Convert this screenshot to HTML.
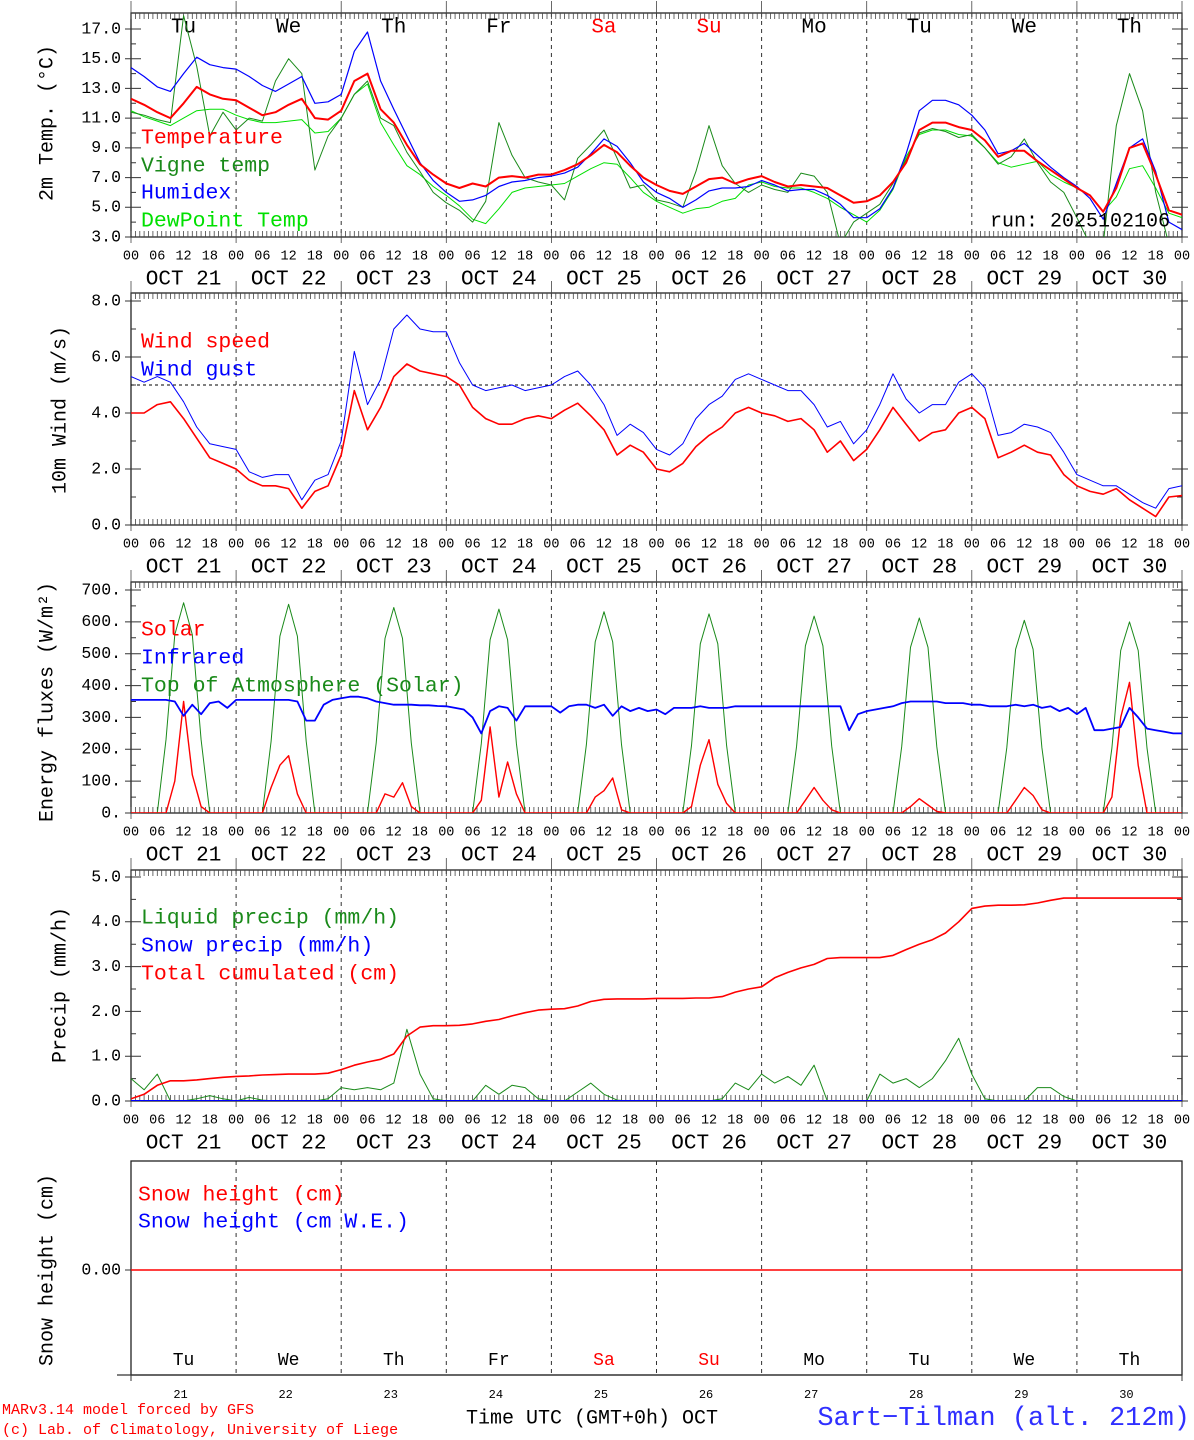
<!DOCTYPE html>
<html><head><meta charset="utf-8"><style>
html,body{margin:0;padding:0;background:#fff;}
svg{display:block;font-family:"Liberation Mono",monospace;}
</style></head><body>
<svg id="chart" width="1194" height="1440" viewBox="0 0 1194 1440" xmlns="http://www.w3.org/2000/svg"></svg>
<script>
// ---- data (3-hourly unless noted) ----
const dayNames = ["Tu","We","Th","Fr","Sa","Su","Mo","Tu","We","Th"];
const dayNums = ["21","22","23","24","25","26","27","28","29","30"];
const hourLabels = ["00","06","12","18"];
const tempTicks = [3,5,7,9,11,13,15,17];
const windTicks = [0,2,4,6,8];
const energyTicks = [0,100,200,300,400,500,600,700];
const precipTicks = [0,1,2,3,4,5];

const temperature = [12.3,11.9,11.4,11.0,12.0,13.1,12.6,12.3, 12.2,11.7,11.2,11.4,11.9,12.3,11.0,10.9,
 11.5,13.5,14.0,11.6,10.7,9.2,7.9,7.2, 6.6,6.3,6.6,6.4,7.0,7.1,7.0,7.2, 7.2,7.5,7.9,8.5,9.2,8.7,7.8,7.0,
 6.5,6.1,5.9,6.4,6.9,7.0,6.6,6.9, 7.1,6.7,6.4,6.5,6.4,6.3,5.8,5.3, 5.4,5.8,6.7,8.0,10.2,10.7,10.7,10.4,
 10.2,9.5,8.4,8.8,8.8,8.1,7.5,6.9, 6.3,5.8,4.7,6.3,9.0,9.3,7.2,4.8,4.5];
const humidex = [14.4,13.8,13.1,12.8,14.0,15.1,14.6,14.4, 14.3,13.8,13.2,12.8,13.3,13.8,12.0,12.1,
 12.6,15.5,16.8,13.5,11.6,9.8,8.0,6.8, 6.0,5.4,5.5,5.8,6.4,6.7,6.8,7.0, 7.1,7.3,7.7,8.6,9.6,9.1,8.0,6.7,
 6.0,5.6,5.0,5.5,6.1,6.3,6.3,6.4, 6.8,6.5,6.1,6.2,6.2,5.8,5.2,4.3, 4.3,4.9,6.3,8.6,11.5,12.2,12.2,11.9,
 11.2,10.2,8.6,8.8,9.3,8.5,7.7,7.0, 6.4,5.6,4.2,6.6,9.0,9.6,7.4,4.0,3.5];
const dewpoint = [11.5,11.1,10.8,10.5,11.0,11.5,11.6,11.6, 11.2,10.9,10.7,10.7,10.8,10.9,10.0,10.1,
 11.0,12.6,13.3,10.7,9.2,7.8,7.2,6.4, 5.8,5.1,4.2,3.9,4.9,6.0,6.3,6.4, 6.5,6.6,7.1,7.6,8.0,7.9,7.0,6.0,
 5.4,5.0,4.6,4.9,5.0,5.4,5.6,6.5, 6.7,6.4,6.3,6.3,6.0,5.6,5.0,4.5, 4.0,4.8,6.2,8.4,9.9,10.2,10.2,9.9,
 9.8,9.0,8.0,7.7,7.9,8.1,7.2,6.7, 6.3,5.8,4.7,5.7,7.6,7.8,6.3,4.6,4.3];
const vigne = [11.4,11.2,10.9,10.7,17.9,14.5,9.8,11.4, 10.2,11.0,10.8,13.5,15.0,14.0,7.5,9.8,
 11.0,12.6,13.5,11.0,10.5,8.7,7.4,6.0, 5.3,4.8,4.0,5.4,10.7,8.5,7.0,6.7, 6.5,5.5,8.3,9.2,10.2,8.3,6.3,6.5,
 5.5,5.3,5.0,7.4,10.5,7.8,6.6,6.0, 6.5,6.2,6.0,7.3,7.1,6.0,2.5,4.0, 4.6,5.2,6.6,8.2,10.0,10.3,10.1,9.7,
 9.9,9.0,7.9,8.4,9.6,8.0,6.7,6.0, 4.3,2.5,2.5,10.5,14.0,11.5,6.0,2.5,2.5];

const windSpeed = [4.0,4.0,4.3,4.4,3.8,3.1,2.4,2.2, 2.0,1.6,1.4,1.4,1.3,0.6,1.2,1.4,
 2.5,4.8,3.4,4.2,5.3,5.75,5.5,5.4, 5.3,5.0,4.2,3.8,3.6,3.6,3.8,3.9, 3.8,4.1,4.35,3.9,3.4,2.5,2.85,2.6,
 2.0,1.9,2.2,2.8,3.2,3.5,4.0,4.2, 4.0,3.9,3.7,3.8,3.4,2.6,3.0,2.3, 2.7,3.4,4.2,3.6,3.0,3.3,3.4,4.0,
 4.2,3.8,2.4,2.6,2.85,2.6,2.5,1.8, 1.4,1.2,1.1,1.3,0.9,0.6,0.3,1.0,1.05];
const windGust = [5.3,5.1,5.3,5.1,4.4,3.5,2.9,2.8, 2.7,1.9,1.7,1.8,1.8,0.9,1.6,1.8,
 3.0,6.2,4.3,5.2,7.0,7.5,7.0,6.9, 6.9,5.8,5.0,4.8,4.9,5.0,4.8,4.9, 5.0,5.3,5.5,5.0,4.3,3.2,3.6,3.3,
 2.7,2.5,2.9,3.8,4.3,4.6,5.2,5.4, 5.2,5.0,4.8,4.8,4.3,3.5,3.7,2.9, 3.4,4.3,5.4,4.5,4.0,4.3,4.3,5.1,
 5.4,4.9,3.2,3.3,3.6,3.5,3.3,2.6, 1.8,1.6,1.4,1.4,1.1,0.8,0.6,1.3,1.4];

// energy fluxes: 2-hourly
const solar = [
 0,0,0,0,0,100,350,120,20,0,0,0,
 0,0,0,0,80,150,180,60,0,0,0,0,
 0,0,0,0,0,60,50,95,20,0,0,0,
 0,0,0,0,40,270,50,160,60,0,0,0,
 0,0,0,0,0,50,70,110,10,0,0,0,
 0,0,0,0,20,150,230,90,30,0,0,0,
 0,0,0,0,0,40,80,40,10,0,0,0,
 0,0,0,0,0,20,45,25,5,0,0,0,
 0,0,0,0,0,40,80,55,10,0,0,0,
 0,0,0,0,50,300,410,150,0,0,0,0, 0];
const toa = [
 0,0,0,0,230,560,660,560,230,0,0,0,
 0,0,0,0,225,555,655,555,225,0,0,0,
 0,0,0,0,220,548,645,548,220,0,0,0,
 0,0,0,0,218,544,640,544,218,0,0,0,
 0,0,0,0,215,537,632,537,215,0,0,0,
 0,0,0,0,212,531,625,531,212,0,0,0,
 0,0,0,0,210,525,618,525,210,0,0,0,
 0,0,0,0,208,520,612,520,208,0,0,0,
 0,0,0,0,205,514,605,514,205,0,0,0,
 0,0,0,0,204,510,600,510,204,0,0,0, 0];
const infrared = [
 355,355,355,355,355,350,305,340,310,345,350,330,
 355,355,355,355,355,355,355,350,290,290,340,355,
 360,365,365,360,350,345,340,340,340,338,338,336,
 335,330,325,300,250,320,335,330,290,335,335,335,
 335,315,335,340,340,330,340,305,335,320,330,320,
 325,310,330,330,330,335,330,330,330,335,335,335,
 335,335,335,335,335,335,335,335,335,335,260,310,
 320,325,330,335,345,350,350,350,350,345,345,345,
 340,340,335,335,335,340,335,340,330,335,320,330,
 310,330,260,260,265,270,330,300,265,260,255,250, 250];

const liquidPrecip = [0.5,0.25,0.6,0.0,0,0.05,0.12,0.05, 0,0.08,0.02,0,0,0,0,0.05,
 0.3,0.25,0.3,0.25,0.4,1.6,0.6,0.05, 0,0,0,0.35,0.15,0.35,0.3,0.05, 0,0,0.2,0.4,0.15,0.02,0,0,
 0,0,0,0,0,0.05,0.4,0.25, 0.6,0.4,0.55,0.35,0.8,0,0,0, 0,0.6,0.4,0.5,0.3,0.5,0.9,1.4,
 0.6,0.05,0,0.02,0,0.3,0.3,0.1, 0,0,0,0,0,0,0,0,0];
const totalCum = [0.05,0.15,0.35,0.45,0.45,0.47,0.5,0.53, 0.55,0.56,0.58,0.59,0.6,0.6,0.6,0.62,
 0.7,0.8,0.87,0.93,1.05,1.45,1.65,1.68, 1.68,1.69,1.72,1.78,1.82,1.9,1.97,2.03, 2.05,2.06,2.12,2.22,2.27,2.28,2.28,2.28,
 2.29,2.29,2.29,2.3,2.3,2.33,2.43,2.5, 2.55,2.75,2.87,2.97,3.05,3.18,3.2,3.2, 3.2,3.2,3.25,3.38,3.5,3.6,3.75,4.0,
 4.3,4.35,4.37,4.37,4.38,4.42,4.48,4.53, 4.53,4.53,4.53,4.53,4.53,4.53,4.53,4.53,4.53];
const snowPrecip = [0,0];
const snowHeight = [0,0];
const snowWE = [0,0];

// ---- drawing ----
const svg = document.getElementById('chart');
const NS = 'http://www.w3.org/2000/svg';
const X0 = 131, X1 = 1182;
function xh(h){ return X0 + h*(X1-X0)/240; }
function mk(tag, attrs, parent){
  const e = document.createElementNS(NS, tag);
  for (const k in attrs) e.setAttribute(k, attrs[k]);
  (parent||svg).appendChild(e);
  return e;
}
function txt(s, x, y, size, fill, anchor, parent){
  const t = mk('text', {x:x, y:y, 'font-size':size, fill:fill||'#000', 'text-anchor':anchor||'start', 'dominant-baseline':'middle'}, parent);
  t.textContent = s;
  return t;
}
function makeY(v0, p0, v1, p1){ return v => p0 + (v - v0)*(p1 - p0)/(v1 - v0); }

const panels = [
 {id:'temp', top:13, bot:237, y:makeY(3,237,17,29)},
 {id:'wind', top:293, bot:525, y:makeY(0,525,8,301)},
 {id:'energy', top:582, bot:813, y:makeY(0,813,700,590)},
 {id:'precip', top:870, bot:1101, y:makeY(0,1101,5,877)},
 {id:'snow', top:1161, bot:1375, y:makeY(0,1270,1,1180)}
];

function frame(p, idx){
  const g = mk('g', {});
  
  
  for (let d=1; d<10; d++){
    const x = xh(d*24);
    const l = mk('line', {x1:x, y1:p.top, x2:x, y2:p.bot, stroke:'#333', 'stroke-width':1, 'stroke-dasharray':'4,4'}, g);
    
    
  }
  mk('rect', {x:X0, y:p.top, width:X1-X0, height:p.bot-p.top, fill:'none', stroke:'#222', 'stroke-width':1.3}, g);
  if (idx < 4){
    let d = '';
    for (let h=0; h<=240; h++){
      const x = xh(h).toFixed(1);
      d += `M${x},${p.top}v6M${x},${p.bot}v-6`;
      if (h % 24 === 0) d += `M${x},${p.top}v-12M${x},${p.bot}v6`;
    }
    mk('path', {d:d, stroke:'#444', 'stroke-width':0.8, fill:'none'}, g);
    const ly = p.bot + 19;
    for (let dd=0; dd<=10; dd++){
      for (let k=0; k<4; k++){
        if (dd===10 && k>0) break;
        const h = dd*24 + k*6;
        const t = txt(hourLabels[k], xh(h), ly, 13.5, '#000', 'middle', g);
        
        
      }
    }
    for (let dd=0; dd<10; dd++){
      const t = txt('OCT ' + dayNums[dd], xh(dd*24+12), p.bot + 42, 21, '#000', 'middle', g);
      
      
    }
  }
  return g;
}

function yTicks(p, ticks, fmt, minorStep){
  const g = mk('g', {});
  
  
  let d = '';
  for (const v of ticks){
    const y = p.y(v).toFixed(1);
    d += `M${X0},${y}h10M${X1},${y}h-10M${X0},${y}h-6M${X1},${y}h6`;
    const t = txt(fmt(v), 121, p.y(v), 16.5, '#000', 'end', g);
    
    
  }
  if (minorStep){
    for (let v = ticks[0]; v <= ticks[ticks.length-1] + 1e-9; v += minorStep){
      const y = p.y(v).toFixed(1);
      d += `M${X0},${y}h5M${X1},${y}h-5`;
    }
  }
  mk('path', {d:d, stroke:'#333', 'stroke-width':1, fill:'none'}, g);
}

function series(p, vals, step, color, width, name){
  const cid = 'clip-' + p.id;
  if (!document.getElementById(cid)){
    const cp = mk('clipPath', {id:cid});
    mk('rect', {x:X0, y:p.top, width:X1-X0, height:p.bot-p.top}, cp);
  }
  const pts = vals.map((v,i) => xh(i*step).toFixed(1) + ',' + p.y(v).toFixed(1)).join(' ');
  const pl = mk('polyline', {points:pts, fill:'none', stroke:color, 'stroke-width':width, 'stroke-linejoin':'round', 'clip-path':'url(#' + cid + ')'});
  
  
}

function yTitle(s, x, y){
  const t = mk('text', {x:x, y:y, 'font-size':20, 'text-anchor':'middle', 'dominant-baseline':'middle', transform:`rotate(-90 ${x} ${y})`});
  t.textContent = s;
  
  
  return t;
}
function legend(s, x, y, color){
  const t = txt(s, x, y, 21.5, color, 'start');
  
  
}

panels.forEach((p,i) => frame(p,i));

// Panel 1
const P1 = panels[0];
yTicks(P1, tempTicks, v => v.toFixed(1), 1);
for (let d=0; d<10; d++){
  const t = txt(dayNames[d], xh(d*24+12), 27, 21, (d===4||d===5)?'#f00':'#000', 'middle');
  
  
}
series(P1, dewpoint, 3, '#00e000', 1, 'dewpoint-line');
series(P1, vigne, 3, '#1a8a1a', 1, 'vigne-temp-line');
series(P1, humidex, 3, '#0000ff', 1.2, 'humidex-line');
series(P1, temperature, 3, '#ff0000', 2, 'temperature-line');
legend('Temperature', 141, 138, '#ff0000');
legend('Vigne temp', 141, 166, '#1a8a1a');
legend('Humidex', 141, 193, '#0000ff');
legend('DewPoint Temp', 141, 221, '#00e000');
{ const t = txt('run: 2025102106', 1170, 221, 20, '#000', 'end');   }
yTitle('2m Temp. (\u00B0C)', 47, 123);

// Panel 2
const P2 = panels[1];
yTicks(P2, windTicks, v => v.toFixed(1), 1);
{ const l = mk('line', {x1:X0, y1:P2.y(5), x2:X1, y2:P2.y(5), stroke:'#000', 'stroke-width':1, 'stroke-dasharray':'3,3'});   }
series(P2, windGust, 3, '#0000ff', 1, 'wind-gust-line');
series(P2, windSpeed, 3, '#ff0000', 1.6, 'wind-speed-line');
legend('Wind speed', 141, 342, '#ff0000');
legend('Wind gust', 141, 370, '#0000ff');
yTitle('10m Wind (m/s)', 60, 410);

// Panel 3
const P3 = panels[2];
yTicks(P3, energyTicks, v => v + '.', 50);
series(P3, toa, 2, '#1a8a1a', 1, 'toa-solar-line');
series(P3, solar, 2, '#ff0000', 1.4, 'solar-line');
series(P3, infrared, 2, '#0000ff', 1.8, 'infrared-line');
legend('Solar', 141, 630, '#ff0000');
legend('Infrared', 141, 658, '#0000ff');
legend('Top of Atmosphere (Solar)', 141, 686, '#1a8a1a');
yTitle('Energy fluxes (W/m\u00B2)', 47, 702);

// Panel 4
const P4 = panels[3];
yTicks(P4, precipTicks, v => v.toFixed(1), 0.5);
series(P4, liquidPrecip, 3, '#1a8a1a', 1, 'liquid-precip-line');
series(P4, totalCum, 3, '#ff0000', 1.6, 'total-cumulated-line');
series(P4, snowPrecip, 240, '#0000ff', 2, 'snow-precip-line');
legend('Liquid precip (mm/h)', 141, 918, '#1a8a1a');
legend('Snow precip (mm/h)', 141, 946, '#0000ff');
legend('Total cumulated (cm)', 141, 974, '#ff0000');
yTitle('Precip (mm/h)', 60, 985);

// Panel 5
const P5 = panels[4];
{ mk('path', {d:`M${X0},${P5.y(0)}h10M${X1},${P5.y(0)}h-10M${X0},${P5.y(0)}h-6`, stroke:'#333'}); }
{ const t = txt('0.00', 121, P5.y(0), 16.5, '#000', 'end');   }
series(P5, snowWE, 240, '#0000ff', 1, 'snow-we-line');
series(P5, snowHeight, 240, '#ff0000', 1.4, 'snow-height-line');
legend('Snow height (cm)', 138, 1195, '#ff0000');
legend('Snow height (cm W.E.)', 138, 1222, '#0000ff');
yTitle('Snow height (cm)', 47, 1270);
mk('line', {x1:117, y1:1375, x2:X1, y2:1375, stroke:'#333', 'stroke-width':1.3});
mk('path', {d:`M${X0},1375v6M${X1},1375v6`, stroke:'#333'});
for (let d=0; d<10; d++){
  const t = txt(dayNames[d], xh(d*24+12), 1360, 18, (d===4||d===5)?'#f00':'#000', 'middle');
  
  
  const n = txt(dayNums[d], xh(d*24+12)-3, 1395, 12, '#000', 'middle');
  
  
}
{ let t = txt('MARv3.14 model forced by GFS', 2, 1410, 15, '#f00', 'start');  
  t = txt('(c) Lab. of Climatology, University of Liege', 2, 1430, 15, '#f00', 'start');  
  t = txt('Time UTC (GMT+0h) OCT', 592, 1418, 20, '#000', 'middle');  
  t = txt('Sart\u2212Tilman (alt. 212m)', 1190, 1418, 27, '#3030ff', 'end');   }
</script>
</body></html>
